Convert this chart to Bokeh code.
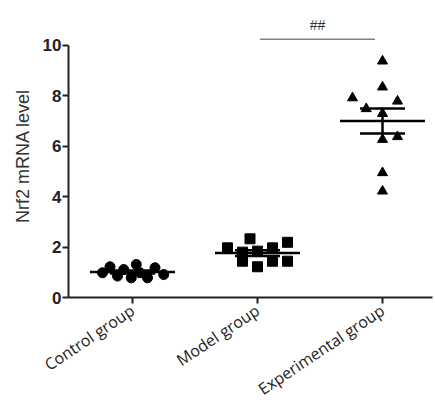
import numpy as np
from bokeh.plotting import figure
from bokeh.models import Range1d, FixedTicker, ColumnDataSource
from bokeh.core.properties import value
from bokeh.embed import file_html
from bokeh.resources import INLINE

categories = ["Control group", "Model group", "Experimental group"]
control_vals = [0.98, 1.22, 0.85, 1.11, 0.78, 1.31, 0.98, 0.78, 1.18, 0.91]
control_jit = [-0.24, -0.18, -0.12, -0.07, -0.01, 0.03, 0.06, 0.12, 0.18, 0.25]
model_vals = [1.97, 1.80, 1.44, 2.33, 1.84, 1.22, 1.97, 1.44, 2.19, 1.44]
model_jit = [-0.24, -0.12, -0.12, -0.06, 0.0, 0.0, 0.12, 0.12, 0.24, 0.24]
exp_vals = [9.38, 8.35, 7.92, 7.79, 7.49, 7.30, 6.27, 6.38, 4.95, 4.22]
exp_jit = [0.0, 0.0, -0.24, 0.12, -0.13, 0.0, 0.0, 0.12, 0.0, 0.0]
y_ticks = [0, 2, 4, 6, 8, 10]
sig_from, sig_to, sig_y = 1.02, 1.94, 10.25
sig_label = "##"

p = figure(width=435, height=411, output_backend="svg", toolbar_location=None,
           x_range=Range1d(-0.512, 2.4), y_range=Range1d(0, 11.23),
           min_border_left=68, min_border_right=3, min_border_top=14, min_border_bottom=113)
p.outline_line_color = None
p.grid.grid_line_color = None
p.background_fill_color = "white"

groups = [(control_vals, control_jit, "circle"), (model_vals, model_jit, "square"),
          (exp_vals, exp_jit, "triangle")]
for i, (vals, jit, marker) in enumerate(groups):
    xs = [i + j for j in jit]
    src = ColumnDataSource(dict(x=xs, y=vals))
    p.scatter("x", "y", source=src, marker=marker, size=10, fill_color="black", line_color="black")
    v = np.array(vals)
    m = v.mean()
    sem = v.std(ddof=1) / np.sqrt(len(v))
    p.segment(x0=[i - 0.34], y0=[m], x1=[i + 0.34], y1=[m], line_color="black", line_width=2.5)
    p.segment(x0=[i, i - 0.18, i - 0.18], y0=[m - sem, m + sem, m - sem],
              x1=[i, i + 0.18, i + 0.18], y1=[m + sem, m + sem, m - sem],
              line_color="black", line_width=2.5)

p.segment(x0=[sig_from], y0=[sig_y], x1=[sig_to], y1=[sig_y], line_color="#808080", line_width=1.5)
p.text(x=[(sig_from + sig_to) / 2], y=[sig_y + 0.58], text=[sig_label], text_align="center",
       text_baseline="middle", text_font_size="14px", text_color="#333333",
       text_font=value("Liberation Sans"))

# y axis
ya = p.yaxis[0]
ya.ticker = FixedTicker(ticks=y_ticks)
ya.bounds = (0, 10)
ya.axis_line_width = 2
ya.axis_line_color = "#222222"
ya.major_tick_line_width = 2
ya.major_tick_line_color = "#222222"
ya.major_tick_out = 6
ya.major_tick_in = 0
ya.minor_tick_line_color = None
ya.major_label_text_font = "Liberation Sans"
ya.major_label_text_font_style = "bold"
ya.major_label_text_font_size = "17px"
ya.major_label_text_color = "#222222"
ya.major_label_standoff = 1
ya.axis_label = "Nrf2 mRNA level"
ya.axis_label_text_font = "Liberation Sans"
ya.axis_label_text_font_style = "normal"
ya.axis_label_text_font_size = "18px"
ya.axis_label_text_color = "#333333"
ya.axis_label_standoff = 7

# x axis
xa = p.xaxis[0]
xa.ticker = FixedTicker(ticks=[0, 1, 2])
xa.major_label_overrides = {0: categories[0], 1: categories[1], 2: categories[2]}
xa.axis_line_width = 2
xa.axis_line_color = "#222222"
xa.major_tick_line_width = 2
xa.major_tick_line_color = "#222222"
xa.major_tick_out = 6
xa.major_tick_in = 0
xa.minor_tick_line_color = None
xa.major_label_orientation = 0.59
xa.major_label_text_font = "Open Sans"
xa.major_label_text_font_size = "16px"
xa.major_label_text_color = "#222222"
xa.major_label_standoff = 5

open("out.html", "w").write(file_html(p, INLINE))
